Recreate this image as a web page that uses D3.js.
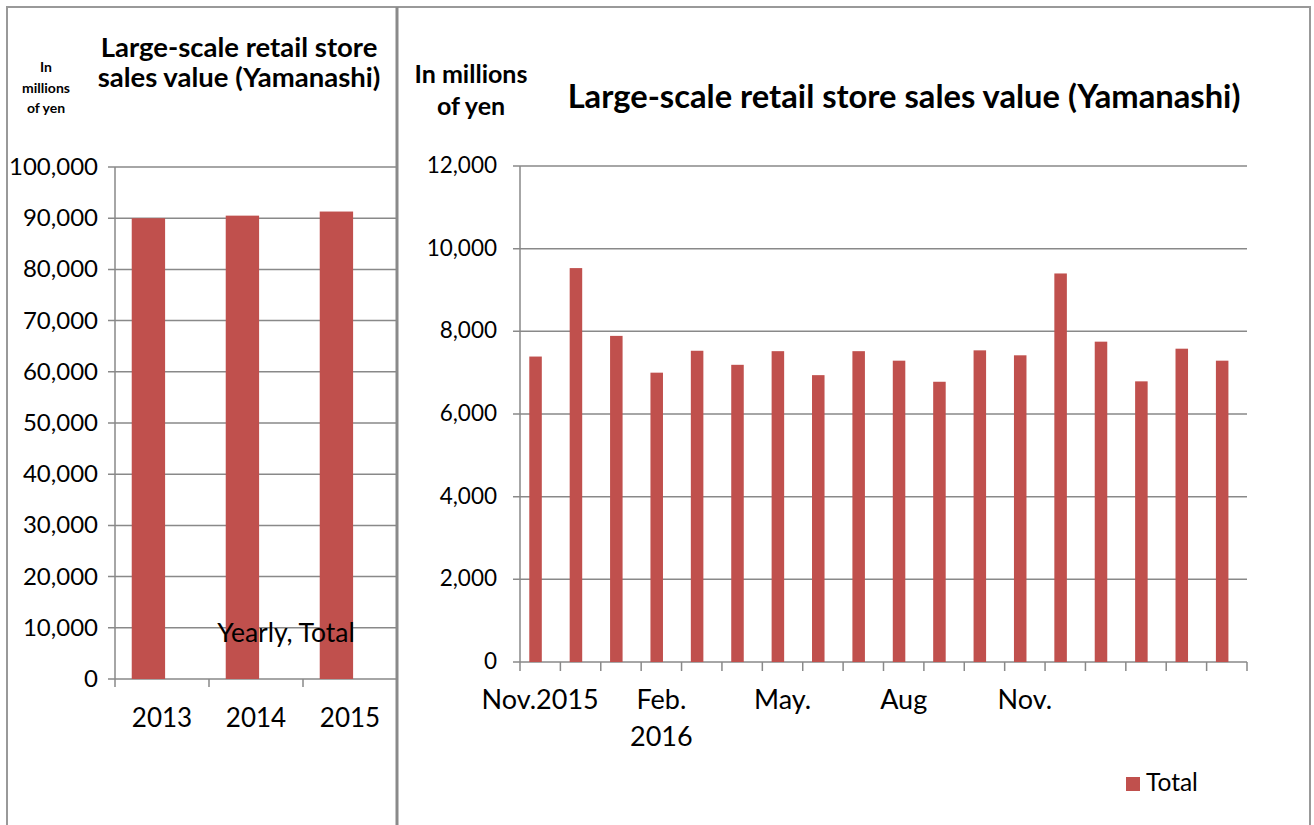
<!DOCTYPE html>
<html>
<head>
<meta charset="utf-8">
<script src="https://d3js.org/d3.v7.min.js"></script>
<style>
  body { margin: 0; background: #fff; }
  text { font-family: Lato, "Open Sans", sans-serif; fill: #000; }
</style>
</head>
<body>
<div id="chart"></div>
<script>
// yearly totals (left panel)
var years = ["2013", "2014", "2015"];
var yearValues = [90000, 90500, 91300];
var yearTicks = [0, 10000, 20000, 30000, 40000, 50000, 60000, 70000, 80000, 90000, 100000];

// monthly totals, Nov.2015 .. Apr.2017 (right panel)
var months = ["2015-11", "2015-12", "2016-01", "2016-02", "2016-03", "2016-04", "2016-05", "2016-06",
  "2016-07", "2016-08", "2016-09", "2016-10", "2016-11", "2016-12", "2017-01", "2017-02", "2017-03", "2017-04"];
var monthValues = [7390, 9530, 7890, 7000, 7530, 7190, 7520, 6940, 7520, 7290, 6780, 7540, 7420, 9400, 7750, 6790, 7580, 7290];
var monthLabels = ["Nov.2015", "", "", "Feb.\n2016", "", "", "May.", "", "", "Aug", "", "", "Nov.", "", "", "", "", ""];
var monthTicks = [0, 2000, 4000, 6000, 8000, 10000, 12000];

var barColor = "#C0504D";
var gridColor = "#898989";
var fmt = d3.format(",");

var svg = d3.select("#chart").append("svg")
  .attr("width", 1314)
  .attr("height", 825);

// ---------- left panel ----------
var x1 = d3.scaleBand().domain(years).range([115, 397]);
var y1 = d3.scaleLinear().domain([0, 100000]).range([679, 167]);

var g1 = svg.append("g");

g1.selectAll("line.grid")
  .data(yearTicks)
  .enter().append("line")
  .attr("x1", 108).attr("x2", 397)
  .attr("y1", function(d){ return y1(d); })
  .attr("y2", function(d){ return y1(d); })
  .attr("stroke", gridColor).attr("stroke-width", 1.5);

g1.append("line")
  .attr("x1", 115).attr("x2", 115)
  .attr("y1", y1(100000)).attr("y2", y1(0))
  .attr("stroke", gridColor).attr("stroke-width", 1.5);

g1.selectAll("line.xt")
  .data(years)
  .enter().append("line")
  .attr("x1", function(d){ return x1(d); })
  .attr("x2", function(d){ return x1(d); })
  .attr("y1", y1(0)).attr("y2", y1(0) + 8)
  .attr("stroke", gridColor).attr("stroke-width", 1.5);

g1.selectAll("rect")
  .data(years)
  .enter().append("rect")
  .attr("x", function(d){ return x1(d) + x1.bandwidth() * 0.178; })
  .attr("width", x1.bandwidth() * 0.355)
  .attr("y", function(d, i){ return y1(yearValues[i]); })
  .attr("height", function(d, i){ return y1(0) - y1(yearValues[i]); })
  .attr("fill", barColor);

g1.selectAll("text.yl")
  .data(yearTicks)
  .enter().append("text")
  .attr("x", 98)
  .attr("y", function(d){ return y1(d) + 8; })
  .attr("text-anchor", "end")
  .style("font-size", "24px")
  .text(function(d){ return fmt(d); });

g1.selectAll("text.xl")
  .data(years)
  .enter().append("text")
  .attr("x", function(d){ return x1(d) + x1.bandwidth() / 2; })
  .attr("y", 727)
  .attr("text-anchor", "middle")
  .style("font-size", "26px")
  .text(function(d){ return d; });

g1.append("text")
  .attr("x", 286).attr("y", 642)
  .attr("text-anchor", "middle")
  .style("font-size", "26.5px")
  .text("Yearly, Total");

g1.selectAll("text.unit")
  .data(["In", "millions", "of yen"])
  .enter().append("text")
  .attr("x", 46)
  .attr("y", function(d, i){ return 72 + i * 20.5; })
  .attr("text-anchor", "middle")
  .style("font-size", "14px").style("font-weight", "bold")
  .text(function(d){ return d; });

g1.selectAll("text.title")
  .data(["Large-scale retail store", "sales value (Yamanashi)"])
  .enter().append("text")
  .attr("x", 239)
  .attr("y", function(d, i){ return 57 + i * 30; })
  .attr("text-anchor", "middle")
  .style("font-size", "27.5px").style("font-weight", "bold")
  .text(function(d){ return d; });

// ---------- right panel ----------
var x2 = d3.scaleBand().domain(months).range([520, 1247]);
var y2 = d3.scaleLinear().domain([0, 12000]).range([662, 166]);

var g2 = svg.append("g");

g2.selectAll("line.grid")
  .data(monthTicks)
  .enter().append("line")
  .attr("x1", 513).attr("x2", 1247)
  .attr("y1", function(d){ return y2(d); })
  .attr("y2", function(d){ return y2(d); })
  .attr("stroke", gridColor).attr("stroke-width", 1.5);

g2.append("line")
  .attr("x1", 520).attr("x2", 520)
  .attr("y1", y2(12000)).attr("y2", y2(0))
  .attr("stroke", gridColor).attr("stroke-width", 1.5);

g2.selectAll("line.xt")
  .data(months.concat(["end"]))
  .enter().append("line")
  .attr("x1", function(d){ return d === "end" ? 1247 : x2(d); })
  .attr("x2", function(d){ return d === "end" ? 1247 : x2(d); })
  .attr("y1", y2(0)).attr("y2", y2(0) + 9)
  .attr("stroke", gridColor).attr("stroke-width", 1.5);

g2.selectAll("rect")
  .data(months)
  .enter().append("rect")
  .attr("x", function(d){ return x2(d) + x2.bandwidth() * 0.23; })
  .attr("width", x2.bandwidth() * 0.31)
  .attr("y", function(d, i){ return y2(monthValues[i]); })
  .attr("height", function(d, i){ return y2(0) - y2(monthValues[i]); })
  .attr("fill", barColor);

g2.selectAll("text.yl")
  .data(monthTicks)
  .enter().append("text")
  .attr("x", 497)
  .attr("y", function(d){ return y2(d) + 7; })
  .attr("text-anchor", "end")
  .style("font-size", "22.5px")
  .text(function(d){ return fmt(d); });

var xl = g2.selectAll("text.xl")
  .data(months)
  .enter().append("text")
  .attr("text-anchor", "middle")
  .style("font-size", "27px");
xl.each(function(d, i){
  var lines = monthLabels[i].split("\n");
  var t = d3.select(this);
  lines.forEach(function(s, j){
    t.append("tspan")
      .attr("x", x2(d) + x2.bandwidth() / 2)
      .attr("y", 709 + j * 37)
      .text(s);
  });
});

g2.selectAll("text.unit")
  .data(["In millions", "of yen"])
  .enter().append("text")
  .attr("x", 471)
  .attr("y", function(d, i){ return 83 + i * 32; })
  .attr("text-anchor", "middle")
  .style("font-size", "25px").style("font-weight", "bold")
  .text(function(d){ return d; });

g2.append("text")
  .attr("x", 904).attr("y", 108)
  .attr("text-anchor", "middle")
  .style("font-size", "32.7px").style("font-weight", "bold")
  .text("Large-scale retail store sales value (Yamanashi)");

// legend
var legend = g2.append("g").attr("transform", "translate(1126,777)");
legend.append("rect").attr("width", 14).attr("height", 14).attr("fill", barColor);
legend.append("text").attr("x", 20).attr("y", 14).style("font-size", "24.5px").text("Total");

// ---------- panel borders ----------
svg.append("path")
  .attr("d", "M7,825 V7 H1310 V825")
  .attr("fill", "none").attr("stroke", "#999").attr("stroke-width", 2);
svg.append("line")
  .attr("x1", 397).attr("x2", 397).attr("y1", 7).attr("y2", 825)
  .attr("stroke", "#8a8a8a").attr("stroke-width", 3);
</script>
</body>
</html>
